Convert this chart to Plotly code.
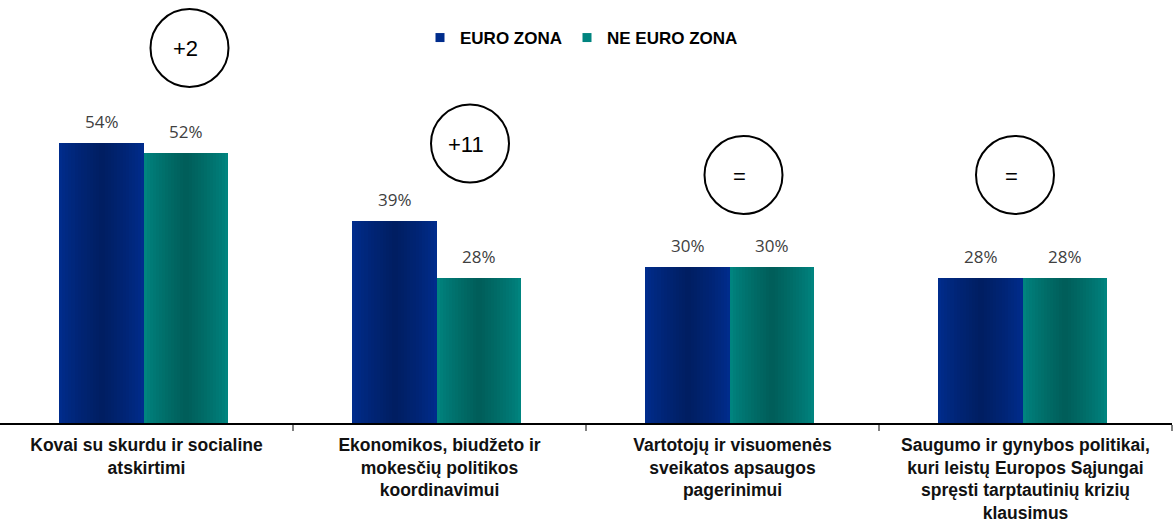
import plotly.graph_objects as go

# Survey topics (x categories) and shares per group, in percent
categories = [
    "Kovai su skurdu ir socialine<br>atskirtimi",
    "Ekonomikos, biudžeto ir<br>mokesčių politikos<br>koordinavimui",
    "Vartotojų ir visuomenės<br>sveikatos apsaugos<br>pagerinimui",
    "Saugumo ir gynybos politikai,<br>kuri leistų Europos Sąjungai<br>spręsti tarptautinių krizių<br>klausimus",
]
euro_zona = [54, 39, 30, 28]
ne_euro_zona = [52, 28, 30, 28]
series_names = ["EURO ZONA", "NE EURO ZONA"]

W, H = 1175, 524
M_L, M_R, M_T, M_B = 0, 3, 0, 101
PLOT_W = W - M_L - M_R
PLOT_H = H - M_T - M_B
Y_MAX = 81.6

BAR_W = 0.287   # width of one bar, in category units
SHIFT = -0.010  # whole pair sits slightly left of the category centre
N_SHADES = 14


def mix(c1, c2, t):
    a = [int(c1[i:i + 2], 16) for i in (1, 3, 5)]
    b = [int(c2[i:i + 2], 16) for i in (1, 3, 5)]
    return "#" + "".join(f"{round(p + (q - p) * t):02X}" for p, q in zip(a, b))


SERIES_STYLE = {
    "EURO ZONA": ("#002C8C", "#001E62"),
    "NE EURO ZONA": ("#00847F", "#005E5A"),
}

x = list(range(len(categories)))
fig = go.Figure()


def add_shaded(values, name, centre):
    edge, mid = SERIES_STYLE[name]
    for i in range(N_SHADES):
        t = i / (N_SHADES - 1)
        w = BAR_W * (1.0 - i / N_SHADES)
        fig.add_trace(go.Bar(
            x=x, y=values, width=[w] * len(x), offset=[centre - w / 2] * len(x),
            marker=dict(color=mix(edge, mid, t ** 0.8), line=dict(width=0)),
            name=name, showlegend=False, hoverinfo="skip" if i else None,
        ))
    # legend entry
    fig.add_trace(go.Scatter(
        x=[None], y=[None], mode="markers", name=name,
        marker=dict(symbol="square", size=9, color=edge),
    ))


centres = (SHIFT - BAR_W / 2, SHIFT + BAR_W / 2)
add_shaded(euro_zona, series_names[0], centres[0])
add_shaded(ne_euro_zona, series_names[1], centres[1])

# value labels above bars
for vals, centre in zip((euro_zona, ne_euro_zona), centres):
    for xi, v in zip(x, vals):
        fig.add_annotation(
            x=xi + centre, y=v, xref="x", yref="y", text=f"{v}%",
            showarrow=False, xanchor="center", yanchor="bottom", yshift=8,
            font=dict(family="Open Sans", size=17, color="#404040"),
        )

# circled difference badges (EURO - NE)
badge_px = [(189.5, 48), (470, 143.5), (743.5, 175), (1015, 175)]
badge_r = 39
for (cx, cy), a, b in zip(badge_px, euro_zona, ne_euro_zona):
    d = a - b
    label = f"+{d}" if d > 0 else ("=" if d == 0 else f"{d}")
    fig.add_shape(
        type="circle", xref="paper", yref="paper",
        x0=(cx - badge_r) / PLOT_W, x1=(cx + badge_r) / PLOT_W,
        y0=(PLOT_H - cy - badge_r) / PLOT_H, y1=(PLOT_H - cy + badge_r) / PLOT_H,
        line=dict(color="black", width=2), fillcolor="rgba(0,0,0,0)",
    )
    fig.add_annotation(
        x=(cx - 4) / PLOT_W, y=(PLOT_H - cy - 1) / PLOT_H, xref="paper", yref="paper",
        xanchor="center", yanchor="middle",
        text=label, showarrow=False,
        font=dict(family="Liberation Sans, Arial", size=22, color="black"),
    )

fig.update_layout(
    width=W, height=H,
    margin=dict(l=M_L, r=M_R, t=M_T, b=M_B, pad=0, autoexpand=False),
    paper_bgcolor="white", plot_bgcolor="white",
    barmode="overlay", bargap=0,
    legend=dict(
        orientation="h", x=(420 - M_L) / PLOT_W, xanchor="left",
        y=(PLOT_H - 38) / PLOT_H, yanchor="middle",
        font=dict(family="Liberation Sans, Arial", size=17, color="black", weight="bold"),
        itemwidth=30, tracegroupgap=0, bgcolor="rgba(0,0,0,0)",
    ),
    xaxis=dict(
        range=[-0.5, len(categories) - 0.5],
        tickmode="array", tickvals=x, ticktext=categories,
        ticks="", showline=True, linecolor="black", linewidth=1.5,
        showgrid=False, zeroline=False, automargin=False,
        tickfont=dict(family="Liberation Sans, Arial", size=17.5, color="#111111", weight="bold"),
        ticklabelstandoff=5,
        minor=dict(
            tickmode="array", tickvals=[i + 0.5 for i in x],
            ticks="outside", ticklen=6, tickcolor="#808080", tickwidth=1.5, showgrid=False,
        ),
    ),
    yaxis=dict(range=[0, Y_MAX], visible=False, showgrid=False, zeroline=False),
)

fig.write_html("out.html")
